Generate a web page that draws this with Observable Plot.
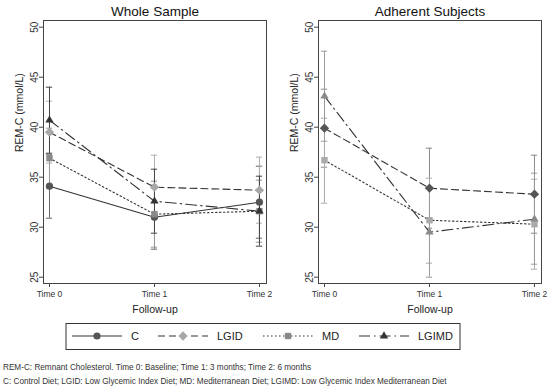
<!DOCTYPE html>
<html>
<head>
<meta charset="utf-8">
<script src="https://cdn.jsdelivr.net/npm/d3@7"></script>
<script src="https://cdn.jsdelivr.net/npm/@observablehq/plot@0.6"></script>
<style>
  body { margin: 0; background: #fff; font-family: "Liberation Sans", Arial, sans-serif; }
  #wrap { width: 550px; height: 389px; position: relative; overflow: hidden; }
  #row { display: flex; width: 550px; height: 320px; }
  #legend { display: block; }
  #caption { position: absolute; left: 3px; top: 361px; font-size: 8.2px; line-height: 13.5px; color: #333; white-space: nowrap; }
</style>
</head>
<body>
<div id="wrap">
  <div id="row"></div>
  <div id="legendHolder"></div>
  <div id="caption">
    <div>REM-C: Remnant Cholesterol. Time 0: Baseline; Time 1: 3 months; Time 2: 6 months</div>
    <div>C: Control Diet; LGID: Low Glycemic Index Diet; MD: Mediterranean Diet; LGIMD: Low Glycemic Index Mediterranean Diet</div>
  </div>
</div>
<script>
// ---- data ----
const times = [0, 1, 2];
const timeLabels = ["Time 0", "Time 1", "Time 2"];
const seriesNames = ["C", "LGID", "MD", "LGIMD"];
const yTicks = [25, 30, 35, 40, 45, 50];
const yLabel = "REM-C (mmol/L)";
const xLabel = "Follow-up";
const panelTitles = ["Whole Sample", "Adherent Subjects"];

// Whole sample: means and CI bounds
const wholeC_mean = [34.1, 31.0, 32.5];
const wholeC_lo = [30.9, 27.8, 28.9];
const wholeC_hi = [37.3, 34.2, 36.1];
const wholeLGID_mean = [39.5, 34.0, 33.7];
const wholeLGID_lo = [36.4, 30.8, 30.4];
const wholeLGID_hi = [42.6, 37.2, 37.0];
const wholeMD_mean = [36.9, 31.3, 31.6];
const wholeMD_lo = [33.9, 28.0, 28.5];
const wholeMD_hi = [39.9, 34.6, 34.7];
const wholeLGIMD_mean = [40.7, 32.6, 31.6];
const wholeLGIMD_lo = [37.4, 29.4, 28.1];
const wholeLGIMD_hi = [44.0, 35.8, 35.1];

// Adherent subjects
const adhLGID_mean = [39.9, 33.9, 33.3];
const adhLGID_lo = [36.0, 29.9, 29.4];
const adhLGID_hi = [43.8, 37.9, 37.2];
const adhMD_mean = [36.7, 30.7, 30.3];
const adhMD_lo = [32.4, 26.4, 25.8];
const adhMD_hi = [40.9, 34.9, 34.8];
const adhLGIMD_mean = [43.1, 29.5, 30.8];
const adhLGIMD_lo = [38.6, 25.0, 26.3];
const adhLGIMD_hi = [47.6, 34.0, 35.4];

// ---- styles ----
const symbols = { C: "circle", LGID: "diamond2", MD: "square", LGIMD: "triangle" };
const dashes = { C: null, LGID: "7,4", MD: "1.5,2.5", LGIMD: "11,4,1.5,4" };
const symR = { C: 3.6, LGID: 4.2, MD: 3.6, LGIMD: 3.1 };

function rows(s, mean, lo, hi) {
  return times.map((t, i) => ({ s, t, v: mean[i], lo: lo[i], hi: hi[i] }));
}

const whole = {
  C: rows("C", wholeC_mean, wholeC_lo, wholeC_hi),
  LGID: rows("LGID", wholeLGID_mean, wholeLGID_lo, wholeLGID_hi),
  MD: rows("MD", wholeMD_mean, wholeMD_lo, wholeMD_hi),
  LGIMD: rows("LGIMD", wholeLGIMD_mean, wholeLGIMD_lo, wholeLGIMD_hi)
};
const adherent = {
  LGID: rows("LGID", adhLGID_mean, adhLGID_lo, adhLGID_hi),
  MD: rows("MD", adhMD_mean, adhMD_lo, adhMD_hi),
  LGIMD: rows("LGIMD", adhLGIMD_mean, adhLGIMD_lo, adhLGIMD_hi)
};
const wholeColors = { C: "#555555", LGID: "#a8a8a8", MD: "#8a8a8a", LGIMD: "#333333" };
const wholeBar = { C: "#666666", LGID: "#b0b0b0", MD: "#999999", LGIMD: "#444444" };
const adhColors = { LGID: "#555555", MD: "#aaaaaa", LGIMD: "#8a8a8a" };
const adhBar = { LGID: "#8a8a8a", MD: "#aaaaaa", LGIMD: "#9a9a9a" };

function panel(title, data, colors, barColors) {
  const marks = [];
  const order = Object.keys(data);
  for (const s of order) {
    marks.push(Plot.ruleX(data[s], { x: "t", y1: "lo", y2: "hi", stroke: barColors[s], strokeWidth: 1 }));
    marks.push(Plot.ruleY(data[s], { y: "lo", x1: d => d.t - 0.03, x2: d => d.t + 0.03, stroke: barColors[s], strokeWidth: 1 }));
    marks.push(Plot.ruleY(data[s], { y: "hi", x1: d => d.t - 0.03, x2: d => d.t + 0.03, stroke: barColors[s], strokeWidth: 1 }));
  }
  for (const s of order) {
    const opts = { x: "t", y: "v", stroke: "#333", strokeWidth: 1.1 };
    if (dashes[s]) opts.strokeDasharray = dashes[s];
    marks.push(Plot.line(data[s], opts));
  }
  for (const s of order) {
    marks.push(Plot.dot(data[s], { x: "t", y: "v", symbol: () => symbols[s], r: symR[s], fill: colors[s], stroke: "none" }));
  }
  marks.push(Plot.frame({ stroke: "#444", strokeWidth: 1 }));
  marks.push(Plot.axisY({ ticks: yTicks, tickSize: 4, tickPadding: 2, tickRotate: -90, fontSize: 10, label: null, stroke: "#444", color: "#333" }));
  marks.push(Plot.axisX({ ticks: times, tickFormat: d => timeLabels[d], tickSize: 4, tickPadding: 3, fontSize: 8.5, label: null, stroke: "#444", color: "#333" }));
  marks.push(Plot.text([title], { frameAnchor: "top", lineAnchor: "middle", dy: -9, fontSize: 13.5, fill: "#111" }));
  marks.push(Plot.text([yLabel], { frameAnchor: "left", dx: -24, rotate: -90, fontSize: 10.5, fill: "#222" }));
  marks.push(Plot.text([xLabel], { frameAnchor: "bottom", lineAnchor: "middle", dy: 26, fontSize: 10.5, fill: "#222" }));
  return Plot.plot({
    width: 275,
    height: 320,
    marginTop: 20,
    marginBottom: 37,
    marginLeft: 43,
    marginRight: 9,
    style: { fontFamily: "Liberation Sans, Arial, sans-serif", background: "white", overflow: "visible" },
    x: { type: "linear", domain: [-0.057, 2.067] },
    y: { domain: [24.37, 50.67] },
    symbol: { type: "identity" },
    marks
  });
}

const row = document.getElementById("row");
row.appendChild(panel(panelTitles[0], whole, wholeColors, wholeBar));
const p2 = panel(panelTitles[1], adherent, adhColors, adhBar);
row.appendChild(p2);

// ---- legend ----
const legendColors = { C: "#555555", LGID: "#a8a8a8", MD: "#8a8a8a", LGIMD: "#333333" };
const legendSvg = d3.select("#legendHolder").append("svg")
  .attr("width", 550).attr("height", 33).style("display", "block");
legendSvg.append("rect").attr("x", 66).attr("y", 3.5).attr("width", 394).attr("height", 26)
  .attr("fill", "white").attr("stroke", "#333").attr("stroke-width", 1);
const itemX = [72, 158, 263, 359];
const d3sym = { circle: d3.symbolCircle, diamond2: d3.symbolDiamond2, square: d3.symbolSquare, triangle: d3.symbolTriangle };
seriesNames.forEach((s, i) => {
  const x0 = itemX[i];
  const g = legendSvg.append("g");
  const ln = g.append("line").attr("x1", x0).attr("x2", x0 + 50).attr("y1", 16).attr("y2", 16)
    .attr("stroke", "#333").attr("stroke-width", 1.1);
  if (dashes[s]) ln.attr("stroke-dasharray", dashes[s]);
  const r = symR[s];
  g.append("path").attr("transform", `translate(${x0 + 25},16)`)
    .attr("d", d3.symbol(d3sym[symbols[s]], Math.PI * r * r)())
    .attr("fill", legendColors[s]);
  g.append("text").attr("x", x0 + 59).attr("y", 16).attr("dy", "0.36em")
    .attr("font-size", 11).attr("fill", "#222")
    .attr("font-family", "Liberation Sans, Arial, sans-serif").text(s);
});
</script>
</body>
</html>
